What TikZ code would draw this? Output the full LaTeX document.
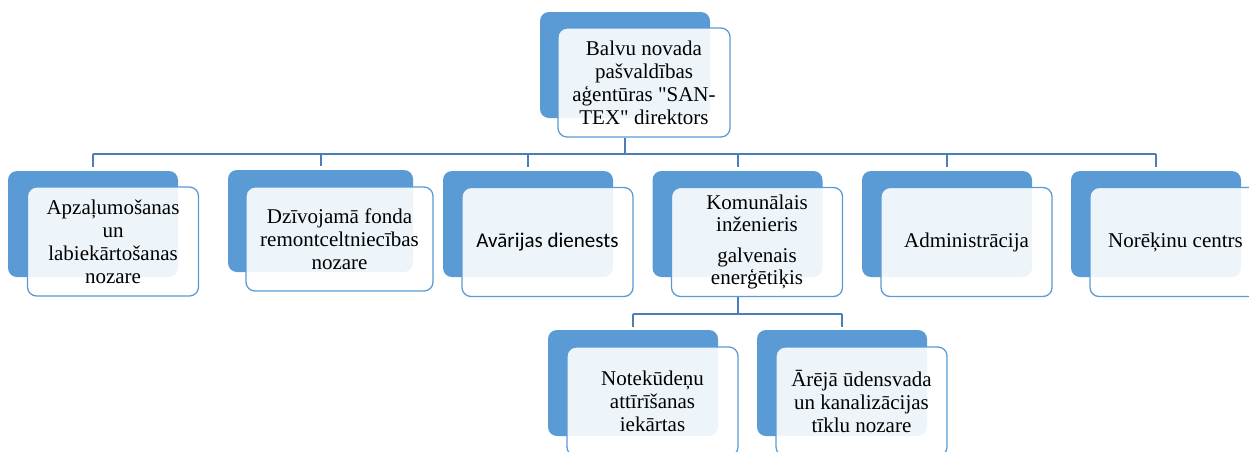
\documentclass[tikz,border=0pt]{standalone}
\usepackage{fontspec}
\setmainfont{Liberation Serif}
\newfontfamily\calibrilike{Carlito}
\usetikzlibrary{backgrounds,calc}
\newcommand\straightq{\XeTeXglyph\XeTeXcharglyph34\relax}
\definecolor{backblue}{HTML}{5B9BD5}
\definecolor{edgeblue}{HTML}{5B9BD5}
\definecolor{linkblue}{HTML}{4A7EBB}
\tikzset{
 backbox/.style={draw=none, fill=backblue, rounded corners=9pt, minimum width=170pt, minimum height=106pt, inner sep=0pt},
 frontbox/.style={draw=edgeblue, line width=1.3pt, fill=white, fill opacity=0.9, text opacity=1, rounded corners=9pt, minimum width=171pt, minimum height=109pt, align=center, font=\fontsize{21}{23}\selectfont, inner sep=2pt},
 link/.style={draw=linkblue, line width=2pt}
}
\begin{document}
\begin{tikzpicture}[x=1pt,y=-1pt]
\useasboundingbox (0,0) rectangle (1249,451);
% back rectangles
\node[backbox] (tb) at (625,65) {};
\node[backbox] (b1b) at (93,224) {};
\node[backbox, minimum width=185pt, minimum height=102pt] (b2b) at (320.5,221) {};
\node[backbox] (b3b) at (528,224) {};
\node[backbox] (b4b) at (737.5,224) {};
\node[backbox] (b5b) at (947,224) {};
\node[backbox] (b6b) at (1156,224) {};
\node[backbox] (b7b) at (633,383) {};
\node[backbox] (b8b) at (842,383) {};
% front boxes
\node[frontbox, minimum width=172pt] (t) at (644,82.5) {Balvu novada\\pašvaldības\\aģentūras \straightq SAN-\\TEX\straightq\ direktors};
\node[frontbox] (b1) at (113,241.5) {Apzaļumošanas\\un\\labiekārtošanas\\nozare};
\node[frontbox, minimum width=187pt, minimum height=104pt] (b2) at (339.5,239) {Dzīvojamā fonda\\remontceltniecības\\nozare};
\node[frontbox, font=\calibrilike\fontsize{21}{23}\selectfont] (b3) at (547.5,242) {Avārijas dienests};
\node[frontbox, font=\fontsize{21}{22}\selectfont] (b4) at (757,242) {Komunālais\\inženieris\\[9pt]galvenais\\enerģētiķis};
\node[frontbox] (b5) at (966.5,242) {Administrācija};
\node[frontbox] (b6) at (1175.5,242) {Norēķinu centrs};
\node[frontbox] (b7) at (652.5,401.5) {Notekūdeņu\\attīrīšanas\\iekārtas};
\node[frontbox] (b8) at (861.5,401.5) {Ārējā ūdensvada\\un kanalizācijas\\tīklu nozare};
% connectors
\begin{scope}[on background layer]
\draw[link] (tb.south |- t.south) -- ++(0,16) coordinate (bus1);
\draw[link] (bus1 -| b1b.north) -- (bus1 -| b6b.north);
\foreach \n in {b1b,b2b,b3b,b4b,b5b,b6b}
  \draw[link] (bus1 -| \n.north) -- ([yshift=4pt]\n.north);
\draw[link] (b4b.south |- b4.south) -- ++(0,17) coordinate (bus2);
\draw[link] (bus2 -| b7b.north) -- (bus2 -| b8b.north);
\foreach \n in {b7b,b8b}
  \draw[link] (bus2 -| \n.north) -- ([yshift=3pt]\n.north);
\end{scope}
\end{tikzpicture}
\end{document}
